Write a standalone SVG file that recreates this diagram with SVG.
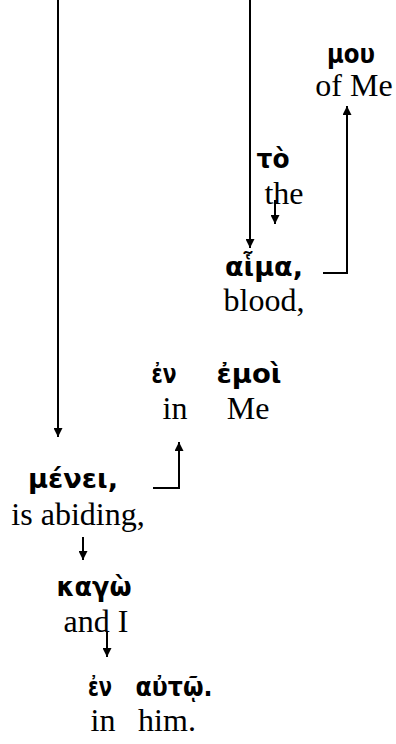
<svg xmlns="http://www.w3.org/2000/svg" width="396" height="744" viewBox="0 0 396 744">
<style>
.g{font-family:"DejaVu Sans","Noto Sans",sans-serif;font-weight:bold;font-size:26px;fill:#000;text-anchor:middle}
.e{font-family:"Liberation Serif","Times New Roman",serif;font-size:32px;fill:#000;text-anchor:middle}
.c{fill:none;stroke:#000;stroke-width:2}
</style>
<defs>
<marker id="b" viewBox="0 0 10 10" refX="10" refY="5" markerWidth="11" markerHeight="9" orient="auto" markerUnits="userSpaceOnUse">
<path d="M0,0 L10,5 L0,10 z" fill="#000"/>
</marker>
</defs>
<g id="connectors">
<path class="c" d="M58,0 V437" marker-end="url(#b)"/>
<path class="c" d="M250,0 V248" marker-end="url(#b)"/>
<path class="c" d="M275,200 V224" marker-end="url(#b)"/>
<path class="c" d="M323,273 H347 V106" marker-end="url(#b)"/>
<path class="c" d="M153,488 H179 V442" marker-end="url(#b)"/>
<path class="c" d="M83,537 V560" marker-end="url(#b)"/>
<path class="c" d="M107,632 V657" marker-end="url(#b)"/>
</g>
<g id="mou"><text class="g" x="351" y="63" textLength="48" lengthAdjust="spacingAndGlyphs">μου</text><text class="e" x="354" y="96">of Me</text></g>
<g id="to"><text class="g" x="273" y="168" textLength="33" lengthAdjust="spacingAndGlyphs">τὸ</text><text class="e" x="284" y="204">the</text></g>
<g id="haima"><text class="g" x="264" y="276" textLength="78" lengthAdjust="spacingAndGlyphs">αἷμα,</text><text class="e" x="264" y="311">blood,</text></g>
<g id="en1"><text class="g" x="164" y="383" textLength="25" lengthAdjust="spacingAndGlyphs">ἐν</text><text class="e" x="175" y="419">in</text></g>
<g id="emoi"><text class="g" x="249" y="383" textLength="65" lengthAdjust="spacingAndGlyphs">ἐμοὶ</text><text class="e" x="248" y="419">Me</text></g>
<g id="menei"><text class="g" x="73" y="488" textLength="90" lengthAdjust="spacingAndGlyphs">μένει,</text><text class="e" x="78" y="525">is abiding,</text></g>
<g id="kago"><text class="g" x="94" y="596" textLength="75" lengthAdjust="spacingAndGlyphs">καγὼ</text><text class="e" x="96" y="632">and I</text></g>
<g id="en2"><text class="g" x="100" y="696" textLength="24" lengthAdjust="spacingAndGlyphs">ἐν</text><text class="e" x="103" y="731">in</text></g>
<g id="auto"><text class="g" x="174" y="696" textLength="77" lengthAdjust="spacingAndGlyphs">αὐτῷ.</text><text class="e" x="167" y="731">him.</text></g>
</svg>
